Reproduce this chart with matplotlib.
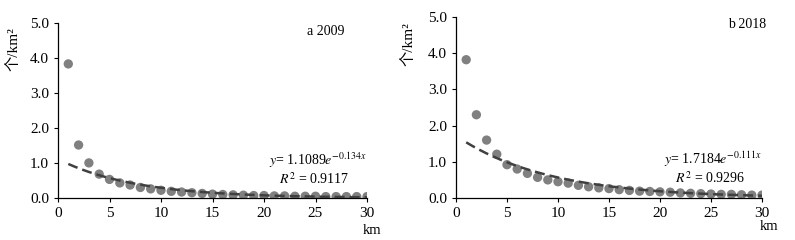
import numpy as np
import matplotlib.pyplot as plt

plt.rcParams['font.family'] = ['Liberation Serif', 'Noto Sans CJK SC']
plt.rcParams['mathtext.fontset'] = 'stix'

dist = np.arange(1, 31)
dens_2009 = [3.82, 1.51, 1.00, 0.68, 0.53, 0.43, 0.37, 0.30, 0.26, 0.22,
             0.19, 0.17, 0.15, 0.13, 0.11, 0.10, 0.09, 0.08, 0.07, 0.07,
             0.06, 0.06, 0.05, 0.05, 0.05, 0.04, 0.04, 0.04, 0.04, 0.04]
dens_2018 = [3.82, 2.30, 1.60, 1.21, 0.92, 0.80, 0.68, 0.57, 0.50, 0.45,
             0.41, 0.35, 0.31, 0.28, 0.26, 0.23, 0.21, 0.19, 0.18, 0.17,
             0.16, 0.14, 0.13, 0.12, 0.11, 0.10, 0.10, 0.09, 0.08, 0.08]
fit_2009 = (1.1089, -0.134)
fit_2018 = (1.7184, -0.111)

fig = plt.figure(figsize=(7.95, 2.4), dpi=100)
ax1 = fig.add_axes([58/795, 42/240, 309/795, 175.5/240])
ax2 = fig.add_axes([456/795, 42/240, 306/795, 181/240])

panels = [
    (ax1, dens_2009, fit_2009, 'a 2009', 0.806, 0.946,
     r'$y$= 1.1089$e^{-0.134x}$', '0.9117', -0.123, 363, 230),
    (ax2, dens_2018, fit_2018, 'b 2018', 0.89, 0.96,
     r'$y$= 1.7184$e^{-0.111x}$', '0.9296', -0.134, 760, 227),
]

for ax, dens, fit, title, tx, ty, eq, r2, lab_x, km_x, km_y in panels:
    a, b = fit
    xs = np.linspace(1, 30, 200)
    ax.plot(xs, a * np.exp(b * xs), ls=(0, (4, 2)), color='#404040', lw=1.8, zorder=3)
    ax.scatter(dist, dens, s=45, color='#808080', zorder=2, edgecolors='none')
    ax.set_xlim(0, 30)
    ax.set_ylim(0, 5)
    ax.set_xticks(range(0, 31, 5))
    ax.set_yticks(np.arange(0, 5.1, 1.0))
    ax.set_yticklabels([f'{v:.1f}' for v in np.arange(0, 5.1, 1.0)])
    for s in ['top', 'right']:
        ax.spines[s].set_visible(False)
    ax.spines['left'].set_linewidth(0.9)
    ax.spines['bottom'].set_linewidth(0.9)
    ax.tick_params(labelsize=11, length=3, width=0.8, direction='out')
    ax.set_ylabel('个/km²', fontsize=11)
    ax.yaxis.set_label_coords(lab_x, 0.85)
    ax.text(tx, ty, title, transform=ax.transAxes, fontsize=10, ha='left', va='center')
    ax.text(0.84, 0.215, eq, transform=ax.transAxes, fontsize=10, ha='center', va='center')
    ax.text(0.83, 0.11, '$R^2$ = ' + r2, transform=ax.transAxes, fontsize=10, ha='center', va='center')
    fig.text(km_x / 795, 1 - km_y / 240, 'km', fontsize=10.5, ha='left', va='center')

fig.savefig('out.png', dpi=100)
